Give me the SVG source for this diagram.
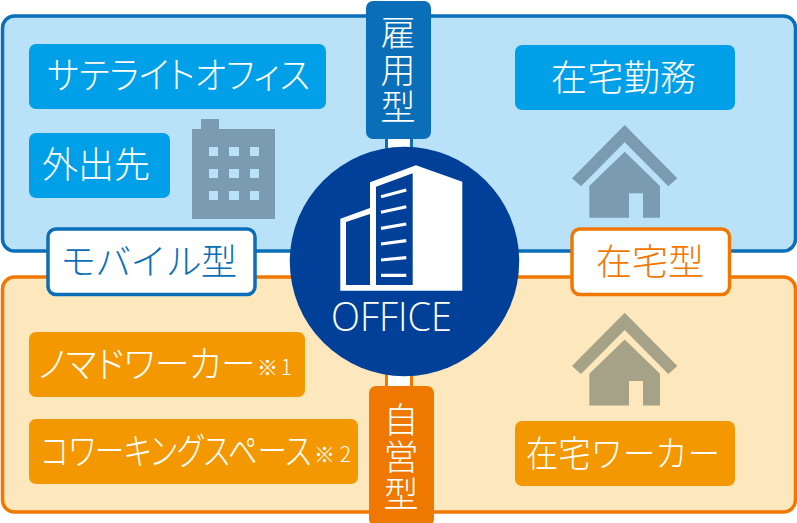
<svg xmlns="http://www.w3.org/2000/svg" width="797" height="523" viewBox="0 0 797 523">
<style>
text{font-family:"Noto Sans CJK JP","Noto Sans",sans-serif;font-weight:300}
.w{fill:#fff}
.j{font-size:36px}
.k{font-size:37px;font-feature-settings:"palt"}
.s{font-size:21px}
.v{font-size:35px;writing-mode:vertical-rl;text-orientation:upright;letter-spacing:2px}
.blue{fill:#00a0e9}
.or{fill:#f39800}
.gb{fill:#7a9bb0}
.go{fill:#a5a287}
</style>
<rect width="797" height="523" fill="#fff"/>
<g id="panel-blue"><rect x="2.5" y="16" width="793" height="235" rx="12" fill="#b9e1f8" stroke="#0a6eb8" stroke-width="3.5"/></g>
<g id="panel-orange"><rect x="2.5" y="277" width="793" height="235" rx="12" fill="#fde7bc" stroke="#f07800" stroke-width="3.5"/></g>
<g id="connectors">
<rect x="386.5" y="130" width="25" height="20" fill="#fff" stroke="#0a6eb8" stroke-width="3"/>
<rect x="386.5" y="372" width="25" height="20" fill="#fff" stroke="#f07800" stroke-width="3"/>
</g>
<g id="node-satellite"><rect class="blue" x="29" y="44" width="297" height="65" rx="7"/><text class="w k" x="47" y="89" textLength="263" lengthAdjust="spacingAndGlyphs">サテライトオフィス</text></g>
<g id="node-gaishutsu"><rect class="blue" x="29" y="133" width="141" height="65" rx="7"/><text class="w j" x="42" y="178" textLength="108">外出先</text></g>
<g id="node-zaitaku-kinmu"><rect class="blue" x="515" y="45" width="220" height="65" rx="7"/><text class="w j" x="551" y="91" textLength="145">在宅勤務</text></g>
<g id="icon-building" class="gb">
<path fill-rule="evenodd" d="M192 129H201V119H219V129H275V219H192ZM209 147V156H218V147ZM229 147V156H239V147ZM250 147V156H259V147ZM209 169V178H218V169ZM229 169V178H239V169ZM250 169V178H259V169ZM209 191V200H218V191ZM229 191V200H239V191ZM250 191V200H259V191Z"/>
</g>
<g id="icon-house-blue" class="gb">
<path d="M624.7 125L677.3 178.3 668.3 186.3 624.7 142.3 581 186.3 572 178.3Z"/>
<path d="M624.7 151.7L660 186V217.7H643V193.3H629V217.7H589.3V186Z"/>
</g>
<g id="icon-house-orange" class="go">
<path d="M624.7 312.7L677.3 366 668.3 374 624.7 330 581 374 572 366Z"/>
<path d="M624.7 339.4L660 373.7V405.4H643V381H629V405.4H589.3V373.7Z"/>
</g>
<g id="node-nomad"><rect class="or" x="29" y="332" width="276" height="65" rx="7"/><text class="w k" transform="translate(38 378) scale(.94 1)">ノマドワーカー</text><text class="w s" x="257" y="375" textLength="35">※1</text></g>
<g id="node-coworking"><rect class="or" x="29" y="419" width="329" height="65" rx="7"/><text class="w k" transform="translate(41 465) scale(.795 1)">コワーキングスペース</text><text class="w s" x="314" y="462" textLength="37">※2</text></g>
<g id="node-zaitaku-worker"><rect class="or" x="515" y="421" width="220" height="65" rx="7"/><text class="w j" x="526" y="467" textLength="194" lengthAdjust="spacingAndGlyphs">在宅ワーカー</text></g>
<g id="tab-koyou"><rect x="366" y="1" width="65" height="138" rx="7" fill="#0a6eb8"/>
<text class="w v" x="398" y="15">雇用型</text></g>
<g id="tab-jiei"><rect x="369" y="386" width="65" height="140" rx="7" fill="#ee7800"/>
<text class="w v" x="401" y="402">自営型</text></g>
<g id="node-mobile"><rect x="48" y="229" width="207" height="65.5" rx="8" fill="#fff" stroke="#0a6eb8" stroke-width="3.5"/><text class="j" x="60" y="275" fill="#0a6eb8" textLength="177">モバイル型</text></g>
<g id="node-zaitaku"><rect x="572" y="229" width="157.5" height="65.5" rx="8" fill="#fff" stroke="#f07800" stroke-width="3.5"/><text class="j" x="596" y="275" fill="#f07800" textLength="108">在宅型</text></g>
<g id="node-office">
<circle cx="404.5" cy="261.5" r="114.7" fill="#004098"/>
<path fill="#fff" fill-rule="evenodd" d="M370 182.3L416 165.3 462.3 181.7V290.7H340.3V218.7L370 208ZM346 222V285H370V214ZM376 186.7V285H412.7V173.3Z"/>
<g stroke="#fff" stroke-width="3.2"><path d="M381 196.7L406.3 190M381 212.3L406.3 206.7M381 228.3L406.3 224M381 244L406.3 240.7M381 260L406.3 257.7M381 275.3H406.3"/></g>
<text x="331" y="331" fill="#fff" textLength="121" lengthAdjust="spacingAndGlyphs" style="font-family:'Open Sans','Noto Sans',sans-serif;font-size:41px;font-weight:300">OFFICE</text>
</g>
</svg>
